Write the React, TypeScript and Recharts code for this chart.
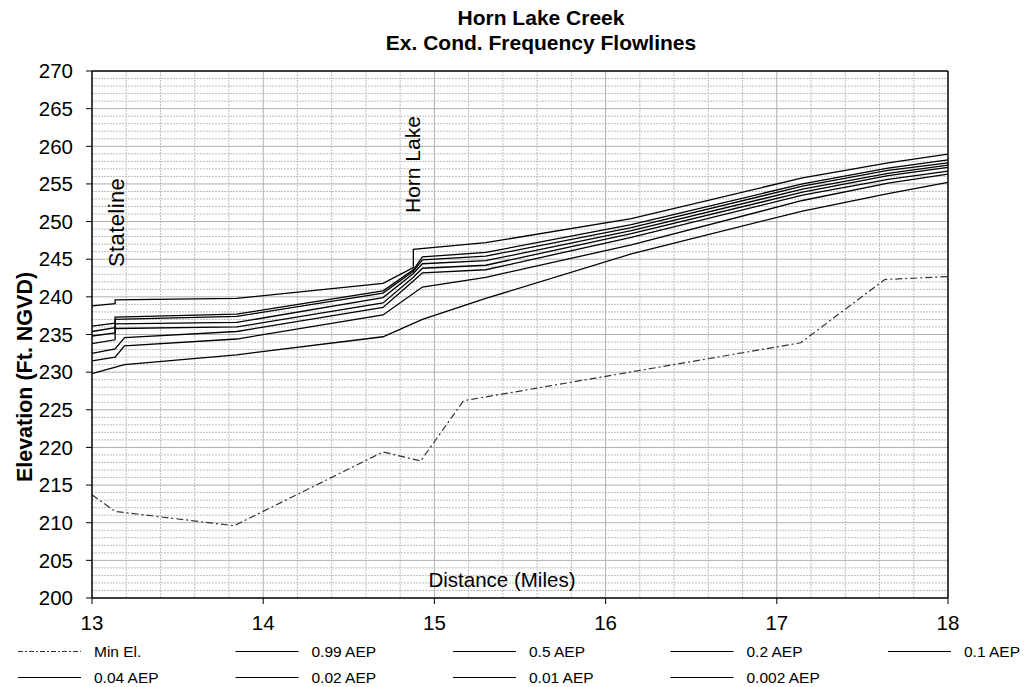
import React from 'react'
import { LineChart, Line, XAxis, YAxis, ReferenceLine } from 'recharts'

// Horn Lake Creek - existing condition frequency flowlines

const distTicks = [13, 14, 15, 16, 17, 18]
const elevTicks = [200, 205, 210, 215, 220, 225, 230, 235, 240, 245, 250, 255, 260, 265, 270]

// [mile, elevation]
const minEl: [number, number][] = [
  [13.0, 213.7], [13.135, 211.5], [13.83, 209.6], [14.7, 219.4], [14.92, 218.2],
  [15.17, 226.2], [17.14, 233.9], [17.63, 242.3], [18.0, 242.7],
]
const aep099: [number, number][] = [
  [13.0, 229.8], [13.19, 231.0], [13.845, 232.3], [14.7, 234.7], [14.93, 237.0],
  [15.3, 239.8], [16.15, 245.7], [17.15, 251.4], [17.65, 253.7], [18.0, 255.2],
]
const aep05: [number, number][] = [
  [13.0, 231.5], [13.135, 232.0], [13.19, 233.5], [13.845, 234.4], [14.7, 237.6],
  [14.93, 241.3], [15.3, 242.6], [16.15, 246.9], [17.15, 252.8], [17.65, 255.1], [18.0, 256.3],
]
const aep02: [number, number][] = [
  [13.0, 232.5], [13.135, 233.1], [13.19, 234.6], [13.845, 235.4], [14.7, 238.6],
  [14.877, 242.1], [14.93, 243.2], [15.3, 243.6], [16.15, 247.9], [17.15, 253.5], [17.65, 255.6], [18.0, 256.7],
]
const aep01: [number, number][] = [
  [13.0, 233.8], [13.135, 234.3], [13.135, 235.8], [13.845, 236.0], [14.7, 239.2],
  [14.877, 242.6], [14.93, 243.8], [15.3, 244.2], [16.15, 248.4], [17.15, 253.9], [17.65, 256.1], [18.0, 257.2],
]
const aep004: [number, number][] = [
  [13.0, 234.8], [13.135, 235.2], [13.135, 236.4], [13.845, 236.6], [14.7, 239.9],
  [14.877, 243.1], [14.93, 244.4], [15.3, 244.8], [16.15, 248.8], [17.15, 254.3], [17.65, 256.4], [18.0, 257.5],
]
const aep002: [number, number][] = [
  [13.0, 235.4], [13.135, 235.9], [13.135, 237.0], [13.845, 237.4], [14.7, 240.5],
  [14.877, 243.4], [14.93, 244.9], [15.3, 245.4], [16.15, 249.2], [17.15, 254.7], [17.65, 256.8], [18.0, 257.8],
]
const aep001: [number, number][] = [
  [13.0, 236.1], [13.135, 236.5], [13.135, 237.3], [13.845, 237.7], [14.7, 240.8],
  [14.877, 243.6], [14.93, 245.3], [15.3, 245.9], [16.15, 249.6], [17.15, 255.0], [17.65, 257.1], [18.0, 258.2],
]
const aep0002: [number, number][] = [
  [13.0, 238.8], [13.135, 239.1], [13.135, 239.6], [13.845, 239.8], [14.7, 241.8],
  [14.877, 243.9], [14.877, 246.3], [15.3, 247.2], [16.15, 250.4], [17.15, 255.8], [17.65, 257.8], [18.0, 258.95],
]

const series = [
  { name: 'Min El.', pts: minEl, dash: '7 3 2 3' },
  { name: '0.99 AEP', pts: aep099 },
  { name: '0.5 AEP', pts: aep05 },
  { name: '0.2 AEP', pts: aep02 },
  { name: '0.1 AEP', pts: aep01 },
  { name: '0.04 AEP', pts: aep004 },
  { name: '0.02 AEP', pts: aep002 },
  { name: '0.01 AEP', pts: aep001 },
  { name: '0.002 AEP', pts: aep0002 },
]

const FONT = 'Arial, "Liberation Sans", sans-serif'
const minorX = Array.from({ length: 26 }, (_, i) => 13 + i * 0.2).filter((v) => Math.abs(v - Math.round(v)) > 0.01)
const minorY = Array.from({ length: 71 }, (_, i) => 200 + i).filter((v) => v % 5 !== 0)

export default function App() {
  return (
    <div style={{ position: 'absolute', left: 0, top: 0, width: 1029, height: 687, background: '#fff', fontFamily: FONT }}>
      <LineChart width={1029} height={687} margin={{ top: 71, right: 81, left: 0, bottom: 0 }}>
        <XAxis
          dataKey="x"
          type="number"
          domain={[13, 18]}
          ticks={distTicks}
          height={89}
          tick={{ fontSize: 20.5, fill: '#000', fontFamily: FONT }}
          tickSize={6}
          tickMargin={11}
          tickLine={{ stroke: '#000' }}
          axisLine={{ stroke: '#000', strokeWidth: 1.5 }}
        />
        <YAxis
          type="number"
          domain={[200, 270]}
          ticks={elevTicks}
          width={92}
          tick={{ fontSize: 20.5, fill: '#000', fontFamily: FONT }}
          tickSize={6}
          tickMargin={13}
          tickLine={{ stroke: '#000' }}
          axisLine={{ stroke: '#000', strokeWidth: 1.5 }}
        />
        {minorX.map((v) => (
          <ReferenceLine key={'mx' + v} x={v} stroke="#bdbdbd" strokeDasharray="2 1" />
        ))}
        {minorY.map((v) => (
          <ReferenceLine key={'my' + v} y={v} stroke="#bdbdbd" strokeDasharray="2 1" />
        ))}
        {distTicks.slice(1, -1).map((v) => (
          <ReferenceLine key={'Mx' + v} x={v} stroke="#b0b0b0" />
        ))}
        {elevTicks.slice(1, -1).map((v) => (
          <ReferenceLine key={'My' + v} y={v} stroke="#b0b0b0" />
        ))}
        <ReferenceLine y={270} stroke="#000" strokeWidth={1.5} />
        <ReferenceLine x={18} stroke="#000" strokeWidth={1.5} />
        {series.map((s) => (
          <Line
            key={s.name}
            name={s.name}
            data={s.pts.map(([x, y]) => ({ x, y }))}
            dataKey="y"
            type="linear"
            stroke={s.dash ? '#333' : '#000'}
            strokeWidth={s.dash ? 1.2 : 1.3}
            strokeDasharray={s.dash}
            dot={false}
            activeDot={false}
            isAnimationActive={false}
          />
        ))}
      </LineChart>
      <svg width={1029} height={687} style={{ position: 'absolute', left: 0, top: 0, pointerEvents: 'none' }} fontFamily={FONT}>
        <text x={541} y={25} textAnchor="middle" fontSize={21} fontWeight="bold">Horn Lake Creek</text>
        <text x={541} y={50} textAnchor="middle" fontSize={21} fontWeight="bold">Ex. Cond. Frequency Flowlines</text>
        <text transform="translate(32,377) rotate(-90)" textAnchor="middle" fontSize={21.5} fontWeight="bold">Elevation (Ft. NGVD)</text>
        <text x={502} y={587} textAnchor="middle" fontSize={20.5}>Distance (Miles)</text>
        <text transform="translate(124,267) rotate(-90)" fontSize={22} letterSpacing={0.4}>Stateline</text>
        <text transform="translate(420,213) rotate(-90)" fontSize={21}>Horn Lake</text>
        {series.map((s, i) => {
          const col = i < 5 ? i : i - 5
          const row = i < 5 ? 0 : 1
          const x0 = 18 + col * 217.5
          const y0 = row === 0 ? 651.5 : 677.5
          return (
            <g key={s.name}>
              <line x1={x0} x2={x0 + 63} y1={y0} y2={y0} stroke={s.dash ? '#333' : '#000'} strokeWidth={1.2} strokeDasharray={s.dash ? '5 2 2 2' : undefined} />
              <text x={x0 + 76} y={y0 + 5.5} fontSize={15.5}>{s.name}</text>
            </g>
          )
        })}
      </svg>
    </div>
  )
}
